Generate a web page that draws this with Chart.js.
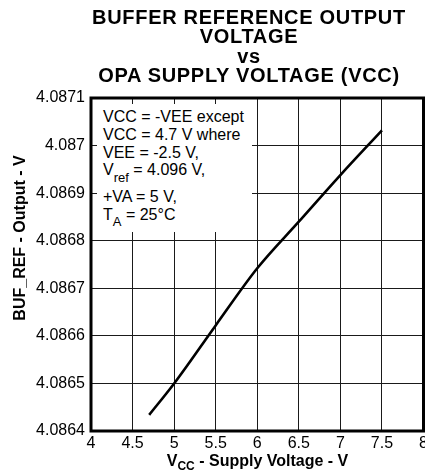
<!DOCTYPE html>
<html>
<head>
<meta charset="utf-8">
<script src="https://cdn.jsdelivr.net/npm/chart.js@4"></script>
<style>
  body { margin: 0; background: #fff; }
  #wrap { position: relative; width: 425px; height: 474px; font-family: "Liberation Sans", Arial, sans-serif; color: #000; }
  #chart { position: absolute; left: 0; top: 0; }
  .title { position: absolute; left: 49px; top: 8px; width: 400px; text-align: center; font-weight: bold; font-size: 20px; line-height: 19.3px; letter-spacing: 0.7px; }
  .note { position: absolute; left: 97px; top: 104px; width: 155px; height: 128px; background: #fff; box-sizing: border-box; padding: 4px 0 0 6px; font-size: 16px; line-height: 17.8px; white-space: nowrap; }
  .note .gap { margin-bottom: 8px; }
  .lo { position: relative; top: 6.5px; font-size: 13px; }
  .xtitle { position: absolute; left: 60px; top: 452px; width: 395px; text-align: center; font-weight: bold; font-size: 16px; line-height: 18px; }
  .xtitle .lo { top: 4px; font-size: 12px; }
  .ytitle { position: absolute; left: -130.5px; top: 228px; width: 300px; height: 20px; line-height: 20px; text-align: center; font-weight: bold; font-size: 16px; transform: rotate(-90deg); }
</style>
</head>
<body>
<div id="wrap">
  <canvas id="chart" width="425" height="474"></canvas>
  <div class="title">BUFFER REFERENCE OUTPUT<br>VOLTAGE<br>vs<br>OPA SUPPLY VOLTAGE (VCC)</div>
  <div class="note">
    <div>VCC = -VEE except</div>
    <div>VCC = 4.7 V where</div>
    <div>VEE = -2.5 V,</div>
    <div class="gap">V<span class="lo">ref</span> = 4.096 V,</div>
    <div>+VA = 5 V,</div>
    <div>T<span class="lo">A</span> = 25°C</div>
  </div>
  <div class="ytitle">BUF_REF - Output - V</div>
  <div class="xtitle">V<span class="lo">CC</span> - Supply Voltage - V</div>
</div>
<script>
// supply voltage (V) and buffer reference output (V)
const vcc = [4.7, 5.0, 5.5, 6.0, 6.5, 7.0, 7.5];
const bufRef = [4.086434, 4.0865, 4.086622, 4.086742, 4.08684, 4.086938, 4.087032];

const xTicks = [4, 4.5, 5, 5.5, 6, 6.5, 7, 7.5, 8];
const yTicks = [4.0864, 4.0865, 4.0866, 4.0867, 4.0868, 4.0869, 4.087, 4.0871];

Chart.defaults.font.family = '"Liberation Sans", Arial, sans-serif';
Chart.defaults.color = '#000';

// heavy black frame round the plot area
const frame = {
  id: 'frame',
  afterDraw(chart) {
    const {ctx, chartArea: a} = chart;
    ctx.save();
    ctx.strokeStyle = '#000';
    ctx.lineWidth = 3;
    ctx.strokeRect(a.left, a.top, a.right - a.left, a.bottom - a.top);
    ctx.restore();
  }
};

new Chart(document.getElementById('chart').getContext('2d'), {
  type: 'scatter',
  data: {
    datasets: [{
      data: vcc.map((v, i) => ({x: v, y: bufRef[i]})),
      showLine: true,
      borderColor: '#000',
      borderWidth: 2.6,
      pointRadius: 0,
      cubicInterpolationMode: 'monotone'
    }]
  },
  options: {
    responsive: false,
    animation: false,
    layout: {padding: {top: 98, right: 1.5, bottom: 0, left: 0}},
    plugins: {legend: {display: false}, tooltip: {enabled: false}},
    scales: {
      x: {
        type: 'linear',
        min: 4, max: 8,
        afterBuildTicks: s => { s.ticks = xTicks.map(v => ({value: v})); },
        afterFit: s => { s.height = 43; s.paddingRight = 0; s.paddingLeft = 0; },
        ticks: {font: {size: 16}, padding: 3, maxRotation: 0, autoSkip: false, callback: v => String(v)},
        grid: {color: '#1a1a1a', lineWidth: 1, drawTicks: false},
        border: {display: false}
      },
      y: {
        min: 4.0864, max: 4.0871,
        afterBuildTicks: s => { s.ticks = yTicks.map(v => ({value: v})); },
        afterFit: s => { s.width = 91; },
        ticks: {font: {size: 16}, padding: 6, autoSkip: false, callback: v => String(Number(v.toFixed(4)))},
        grid: {color: '#1a1a1a', lineWidth: 1, drawTicks: false},
        border: {display: false}
      }
    }
  },
  plugins: [frame]
});
</script>
</body>
</html>
